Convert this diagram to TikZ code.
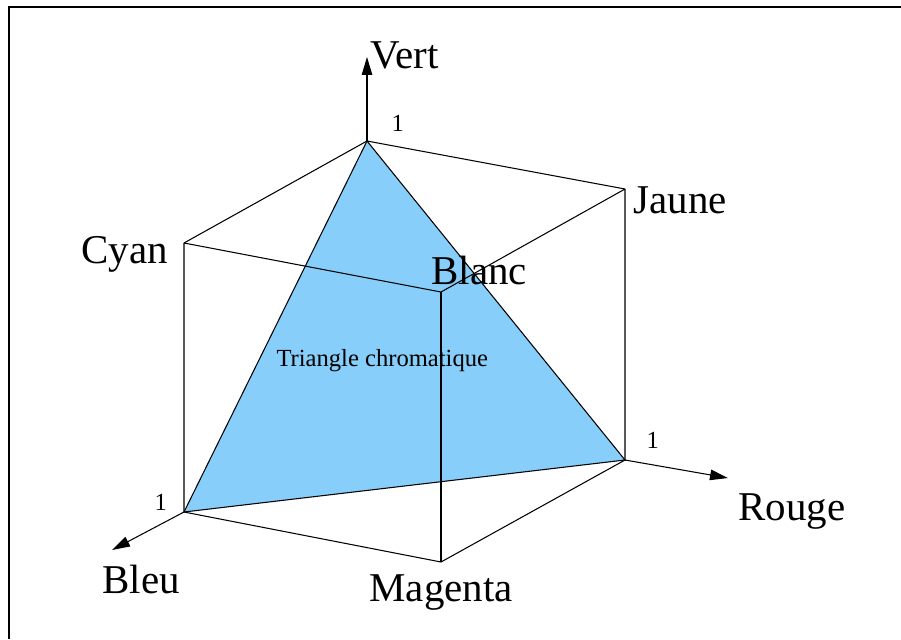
\documentclass[tikz,border=0pt]{standalone}
\usepackage{fontspec}
\setmainfont{Liberation Serif}
\usetikzlibrary{arrows.meta}
\definecolor{skyfill}{RGB}{135,206,250}

\begin{document}
\begin{tikzpicture}[x=0.02cm, y=-0.02cm, line width=0.6pt,
  axis/.style={-{Triangle[length=0.36cm,width=0.21cm]}},
  bigname/.style={font=\fontsize{23.3}{27}\selectfont, inner sep=0pt, anchor=base west},
  unit/.style={font=\fontsize{14}{16}\selectfont, inner sep=0pt, anchor=base west}]

\useasboundingbox (0,0) rectangle (901,639);

% Frame
\draw[line width=0.8pt] (901,7) -- (9,7) -- (9,639);

% Cube corners
\coordinate (vert) at (367,141);
\coordinate (jaune) at (625,189);
\coordinate (cyan) at (184,243);
\coordinate (blanc) at (441,292);
\coordinate (rouge) at (625,460);
\coordinate (bleu) at (184,512);
\coordinate (magenta) at (441,562);

% Axis ends
\coordinate (vtip) at (367,57);
\coordinate (rtip) at (728,478);
\coordinate (btip) at (112,550);

% Chromatic triangle
\filldraw[fill=skyfill] (vert) -- (rouge) -- (bleu) -- cycle;

% Cube edges
\draw (cyan) -- (vert) -- (jaune);
\draw (cyan) -- (blanc) -- (jaune);
\draw (jaune) -- (rouge) -- (magenta) -- (bleu) -- (cyan);
\draw (blanc) -- (magenta);

% Axes
\draw[axis] (vert) -- (vtip);
\draw[axis] (rouge) -- (rtip);
\draw[axis] (bleu) -- (btip);

% Labels
\node[bigname] (lvert) at (370,68) {Vert};
\node[bigname] (ljaune) at (633,213) {Jaune};
\node[bigname] (lcyan) at (81,263) {Cyan};
\node[bigname] (lblanc) at (431,284) {Blanc};
\node[bigname] (lrouge) at (738,520) {Rouge};
\node[bigname] (lbleu) at (102,593) {Bleu};
\node[bigname] (lmagenta) at (369,601) {Magenta};
\node[unit] (ltri) at (276,366) {Triangle chromatique};

% Unit marks
\node[unit] (one_v) at (391,131) {1};
\node[unit] (one_r) at (646,448) {1};
\node[unit] (one_b) at (154,510) {1};

\end{tikzpicture}
\end{document}
